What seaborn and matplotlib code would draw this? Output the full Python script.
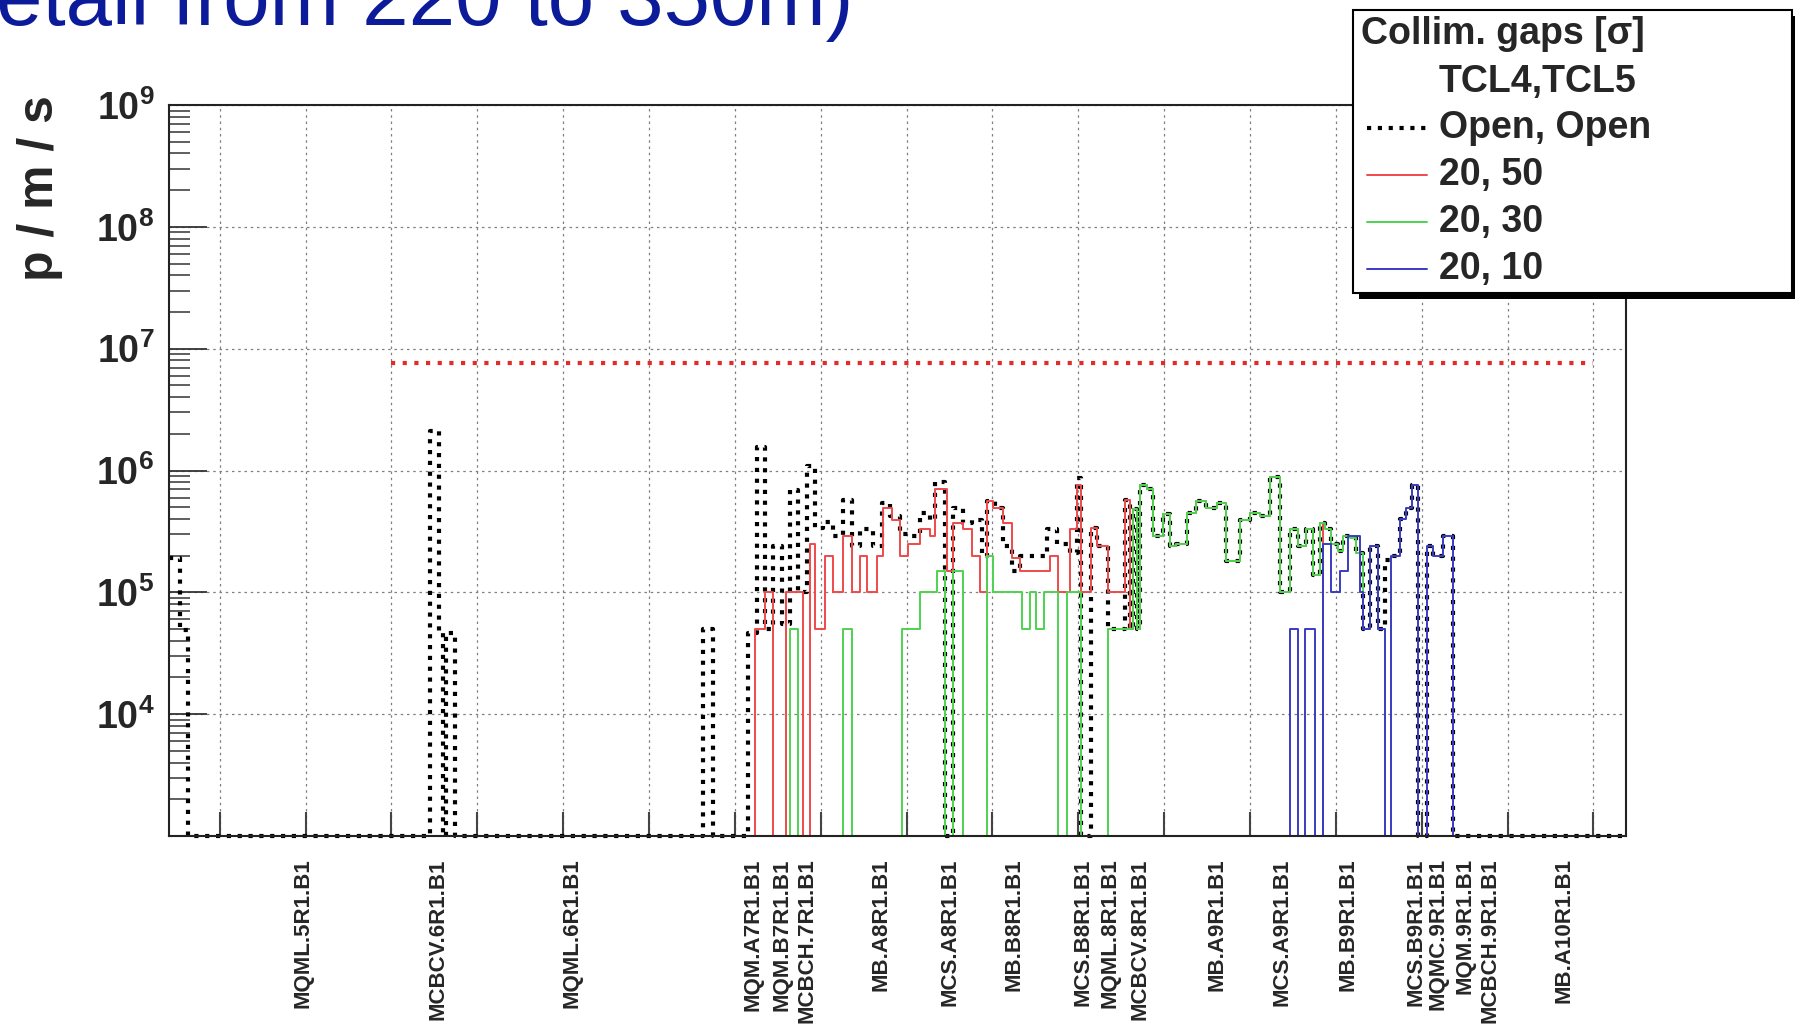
import numpy as np
import pandas as pd
import matplotlib
matplotlib.use("Agg")
import matplotlib.pyplot as plt
import seaborn as sns
from matplotlib.ticker import FixedLocator, NullFormatter
from matplotlib.patches import Rectangle
from matplotlib.lines import Line2D

# ---------------- data (s in m, loss rate in p/m/s; 0 = empty bin) ----------------
open_x = [204.13, 205.36, 206.33, 234.48, 235.56, 235.96, 236.34, 237.39, 266.32, 267.48,
          271.56, 272.53, 273.50, 274.47, 275.44, 276.41, 277.38, 278.35, 279.32, 280.29,
          281.46, 282.62, 283.59, 284.56, 286.12, 287.09, 288.06, 289.22, 290.19, 291.55,
          292.72, 293.30, 294.50, 295.40, 296.60, 297.57, 298.73, 299.31, 300.29, 301.26,
          302.23, 303.20, 306.30, 307.47, 309.02, 309.80, 310.26, 311.43, 312.20, 313.48,
          315.42, 315.99, 316.40, 316.86, 317.17, 317.95, 318.72, 319.89, 320.67, 321.44,
          322.61, 323.77, 324.93, 326.10, 327.26, 328.82, 329.98, 331.15, 332.31, 333.48,
          334.64, 335.61, 336.58, 337.36, 338.13, 338.71, 339.49, 340.27, 340.85, 341.63,
          342.40, 343.18, 343.96, 344.93, 345.70, 346.48, 347.45, 348.20, 348.90, 349.60,
          350.57, 351.34, 352.50, 353.67]
open_v = [1.9e5, 4.9e4, 0, 2.1e6, 4.6e4, 0, 4.6e4, 0, 5.0e4, 0,
          4.6e4, 1.57e6, 5.0e4, 2.4e5, 5.5e4, 6.9e5, 1.0e5, 1.08e6, 3.4e5, 3.8e5,
          2.9e5, 5.7e5, 2.4e5, 3.3e5, 2.4e5, 5.4e5, 4.2e5, 3.0e5, 2.9e5, 4.5e5,
          3.9e5, 8.1e5, 0, 4.9e5, 3.7e5, 3.9e5, 2.0e5, 5.6e5, 4.9e5, 2.4e5,
          1.5e5, 2.0e5, 3.3e5, 2.5e5, 2.1e5, 8.6e5, 0, 3.4e5, 2.4e5, 5.0e4,
          5.7e5, 5.0e4, 4.8e5, 5.0e4, 7.6e5, 7.0e5, 2.9e5, 4.4e5, 2.4e5, 2.5e5,
          4.5e5, 5.6e5, 4.9e5, 5.4e5, 1.8e5, 3.9e5, 4.5e5, 4.2e5, 8.9e5, 1.0e5,
          3.3e5, 2.4e5, 3.3e5, 1.4e5, 3.7e5, 3.3e5, 2.5e5, 2.2e5, 2.9e5, 2.8e5,
          2.1e5, 5.0e4, 2.4e5, 5.0e4, 1.85e5, 2.0e5, 4.0e5, 4.9e5, 7.6e5, 0,
          2.4e5, 2.0e5, 2.9e5, 0]

red_x = [204.13, 272.33, 273.50, 274.47, 275.90, 277.96, 278.74, 279.32, 280.49, 281.46,
         282.62, 283.59, 284.56, 285.34, 286.50, 287.28, 288.25, 289.22, 290.19, 291.55,
         292.72, 293.30, 294.66, 295.43, 296.60, 297.57, 298.54, 299.31, 300.09, 301.26,
         302.23, 303.20, 306.69, 307.66, 309.02, 309.80, 310.26, 311.43, 312.20, 313.48,
         315.42, 315.99, 316.40, 316.86, 317.17, 317.95, 318.72, 319.89, 320.67, 321.44,
         322.61, 323.77, 324.93, 326.10, 327.26, 328.82, 329.98, 331.15, 332.31, 333.48,
         334.64, 335.61, 336.58, 337.36, 338.13, 338.52]
red_v = [0, 5e4, 1e5, 0, 1e5, 0, 2.5e5, 5e4, 2e5, 1e5,
         2.9e5, 1e5, 2e5, 1e5, 2e5, 4.9e5, 3.9e5, 2e5, 2.5e5, 3.3e5,
         2.9e5, 7e5, 1.5e5, 3.7e5, 3.3e5, 2e5, 1e5, 5.6e5, 4.9e5, 3.7e5,
         1.9e5, 1.5e5, 2e5, 1e5, 3.3e5, 7.6e5, 1e5, 3.4e5, 2.4e5, 1e5,
         5.7e5, 5.0e4, 4.8e5, 5.0e4, 7.6e5, 7.0e5, 2.9e5, 4.4e5, 2.4e5, 2.5e5,
         4.5e5, 5.6e5, 4.9e5, 5.4e5, 1.8e5, 3.9e5, 4.5e5, 4.2e5, 8.9e5, 1.0e5,
         3.3e5, 2.4e5, 3.3e5, 1.4e5, 3.7e5, 0]

green_x = [204.13, 276.41, 277.38, 282.62, 283.59, 289.42, 291.55, 293.49, 294.50, 295.40,
           296.60, 299.31, 300.09, 303.47, 304.40, 305.06, 305.99, 307.66, 308.63, 310.26,
           313.48, 315.99, 316.40, 316.86, 317.17, 317.95, 318.72, 319.89, 320.67, 321.44,
           322.61, 323.77, 324.93, 326.10, 327.26, 328.82, 329.98, 331.15, 332.31, 333.48,
           334.64, 335.61, 336.58, 337.36, 338.13, 338.71, 339.49, 340.27, 340.85, 341.63,
           342.40, 343.18, 343.96, 344.93, 345.70]
green_v = [0, 5e4, 0, 5e4, 0, 5e4, 1e5, 1.5e5, 0, 1.5e5,
           0, 2e5, 1e5, 5e4, 1e5, 5e4, 1e5, 0, 1e5, 0,
           5e4, 5.0e4, 4.8e5, 5.0e4, 7.6e5, 7.0e5, 2.9e5, 4.4e5, 2.4e5, 2.5e5,
           4.5e5, 5.6e5, 4.9e5, 5.4e5, 1.8e5, 3.9e5, 4.5e5, 4.2e5, 8.9e5, 1.0e5,
           3.3e5, 2.4e5, 3.3e5, 1.4e5, 3.7e5, 3.3e5, 2.5e5, 2.2e5, 2.9e5, 2.8e5,
           2.1e5, 5.0e4, 2.4e5, 5.0e4, 0]

blue_x = [204.13, 334.64, 335.61, 336.39, 337.55, 338.52, 339.49, 340.46, 341.43, 342.79,
          343.18, 343.96, 344.93, 345.70, 346.48, 347.45, 348.20, 348.90, 349.60, 350.57,
          351.34, 352.50, 353.67]
blue_v = [0, 5e4, 0, 5e4, 0, 2.5e5, 1e5, 1.5e5, 2.9e5, 1e5,
          5e4, 2.4e5, 5e4, 0, 2e5, 4e5, 4.9e5, 7.6e5, 0, 2.4e5,
          2e5, 2.9e5, 0]

limit_x = [230.0, 370.0]
limit_v = [7.6e6, 7.6e6]

elem_pos = [219.73, 235.47, 251.07, 272.13, 275.47, 278.40, 287.07, 295.07, 302.53, 310.53,
            313.73, 317.20, 326.13, 333.73, 341.47, 349.33, 351.87, 355.07, 358.00, 366.53]
elem_names = ["MQML.5R1.B1", "MCBCV.6R1.B1", "MQML.6R1.B1", "MQM.A7R1.B1", "MQM.B7R1.B1",
              "MCBCH.7R1.B1", "MB.A8R1.B1", "MCS.A8R1.B1", "MB.B8R1.B1", "MCS.B8R1.B1",
              "MQML.8R1.B1", "MCBCV.8R1.B1", "MB.A9R1.B1", "MCS.A9R1.B1", "MB.B9R1.B1",
              "MCS.B9R1.B1", "MQMC.9R1.B1", "MQM.9R1.B1", "MCBCH.9R1.B1", "MB.A10R1.B1"]
grid_pos = [210, 220, 230, 240, 250, 260, 270, 280, 290, 300, 310, 320, 330, 340, 350, 360, 370]
ytick_vals = [1e4, 1e5, 1e6, 1e7, 1e8, 1e9]
ytick_labels = [r"$\mathbf{10^{4}}$", r"$\mathbf{10^{5}}$", r"$\mathbf{10^{6}}$",
                r"$\mathbf{10^{7}}$", r"$\mathbf{10^{8}}$", r"$\mathbf{10^{9}}$"]
legend_labels = ["Open, Open", "20, 50", "20, 30", "20, 10"]

# ---------------- style ----------------
sns.set_theme(style="white")
plt.rcParams["font.family"] = ["Liberation Sans", "DejaVu Sans"]
plt.rcParams["mathtext.fontset"] = "custom"
plt.rcParams["mathtext.rm"] = "Liberation Sans"
plt.rcParams["mathtext.bf"] = "Liberation Sans:bold"
plt.rcParams["mathtext.it"] = "Liberation Sans:italic"

W, H = 1795, 1032
XMIN, XMAX = 204.13, 373.80
YMIN, YMAX = 1e3, 1e9

fig = plt.figure(figsize=(W / 100, H / 100), dpi=100)
ax = fig.add_axes([169.4 / W, 1 - 836 / H, (1626 - 169.4) / W, (836 - 105) / H])
ax.set_yscale("log")


def steps(xs, vs):
    x = list(xs) + [XMAX]
    v = [val if val > 0 else YMIN for val in vs]
    v = v + [v[-1]]
    return pd.DataFrame({"s": x, "rate": v})


BLACK = "#000000"
RED = "#ee4a4a"
GREEN = "#4fd24f"
BLUE = "#3b3bc4"
DOT = (1, 1.6)

specs = [
    (open_x, open_v, BLACK, 3.0, DOT),
    (red_x, red_v, RED, 1.4, None),
    (green_x, green_v, GREEN, 1.4, None),
    (blue_x, blue_v, BLUE, 1.4, None),
]
for xs, vs, col, lw, dash in specs:
    df = steps(xs, vs)
    sns.lineplot(data=df, x="s", y="rate", ax=ax, estimator=None, sort=False,
                 drawstyle="steps-post", color=col, linewidth=lw, clip_on=False)
    if dash is not None:
        ax.lines[-1].set_dashes(dash)

lim_df = pd.DataFrame({"s": limit_x, "rate": limit_v})
sns.lineplot(data=lim_df, x="s", y="rate", ax=ax, estimator=None, sort=False,
             color="#e52a2a", linewidth=3.0)
ax.lines[-1].set_dashes((1, 1.8))

ax.set_xlim(XMIN, XMAX)
ax.set_ylim(YMIN, YMAX)
ax.set_xlabel("")
ax.set_ylabel("")

# y axis
ax.yaxis.set_major_locator(FixedLocator(ytick_vals))
ax.set_yticklabels(ytick_labels)
ax.yaxis.set_minor_locator(FixedLocator([m * 10 ** e for e in range(3, 9) for m in range(2, 10)]))
ax.yaxis.set_minor_formatter(NullFormatter())
ax.tick_params(axis="y", which="major", direction="in", length=27, width=1.3,
               color="#333333", labelsize=27, pad=11, left=True, right=False)
ax.tick_params(axis="y", which="minor", direction="in", length=15, width=1.1,
               color="#333333", left=True, right=False)

# x axis
ax.set_xticks(elem_pos)
ax.set_xticklabels(elem_names, rotation=90, fontsize=16, fontweight="bold")
ax.xaxis.set_minor_locator(FixedLocator(grid_pos))
ax.tick_params(axis="x", which="major", length=0, pad=16)
ax.tick_params(axis="x", which="minor", direction="in", length=17, width=1.5,
               color="#444444", bottom=True, top=False)

ax.grid(False)
ax.set_axisbelow(True)
ax.xaxis.grid(True, which="minor", color="#808080", linewidth=0.9, linestyle=(0, (2, 3)))
ax.yaxis.grid(True, which="major", color="#808080", linewidth=0.9, linestyle=(0, (2, 3)))

for sp in ax.spines.values():
    sp.set_visible(True)
    sp.set_color("#222222")
    sp.set_linewidth(1.5)

# ---------------- texts ----------------
fig.text(853 / W, 1 - 25 / H, "(detail from 220 to 350m)", ha="right", va="baseline",
         fontsize=60, color="#0b1b9a")
fig.text(40 / W, 1 - 188 / H, "p / m / s", rotation=90, ha="center", va="center",
         fontsize=36, fontweight="bold")

# ---------------- legend (ROOT style box with shadow) ----------------
def fx(x):
    return x / W


def fy(y):
    return 1 - y / H


fig.add_artist(Rectangle((fx(1359), fy(299)), fx(1800) - fx(1359), fy(16) - fy(299),
                         transform=fig.transFigure, facecolor="black", edgecolor="none"))
fig.add_artist(Rectangle((fx(1353), fy(293)), fx(1792) - fx(1353), fy(10) - fy(293),
                         transform=fig.transFigure, facecolor="white", edgecolor="black",
                         linewidth=1.5))
LFS = 27
fig.text(fx(1361), fy(34), "Collim. gaps [σ]", ha="left", va="center", fontsize=LFS,
         fontweight="bold")
fig.text(fx(1439), fy(82), "TCL4,TCL5", ha="left", va="center", fontsize=LFS,
         fontweight="bold")
leg_rows = [(BLACK, 3.0, DOT), (RED, 1.4, None), (GREEN, 1.4, None), (BLUE, 1.4, None)]
leg_y = [128, 175, 222, 269]
for (col, lw, dash), lab, yy in zip(leg_rows, legend_labels, leg_y):
    ln = Line2D([fx(1367), fx(1427)], [fy(yy), fy(yy)], transform=fig.transFigure,
                color=col, linewidth=lw)
    if dash is not None:
        ln.set_dashes(dash)
    fig.add_artist(ln)
    fig.text(fx(1439), fy(yy), lab, ha="left", va="center", fontsize=LFS, fontweight="bold")

fig.savefig("out.png", dpi=100, facecolor="white")
